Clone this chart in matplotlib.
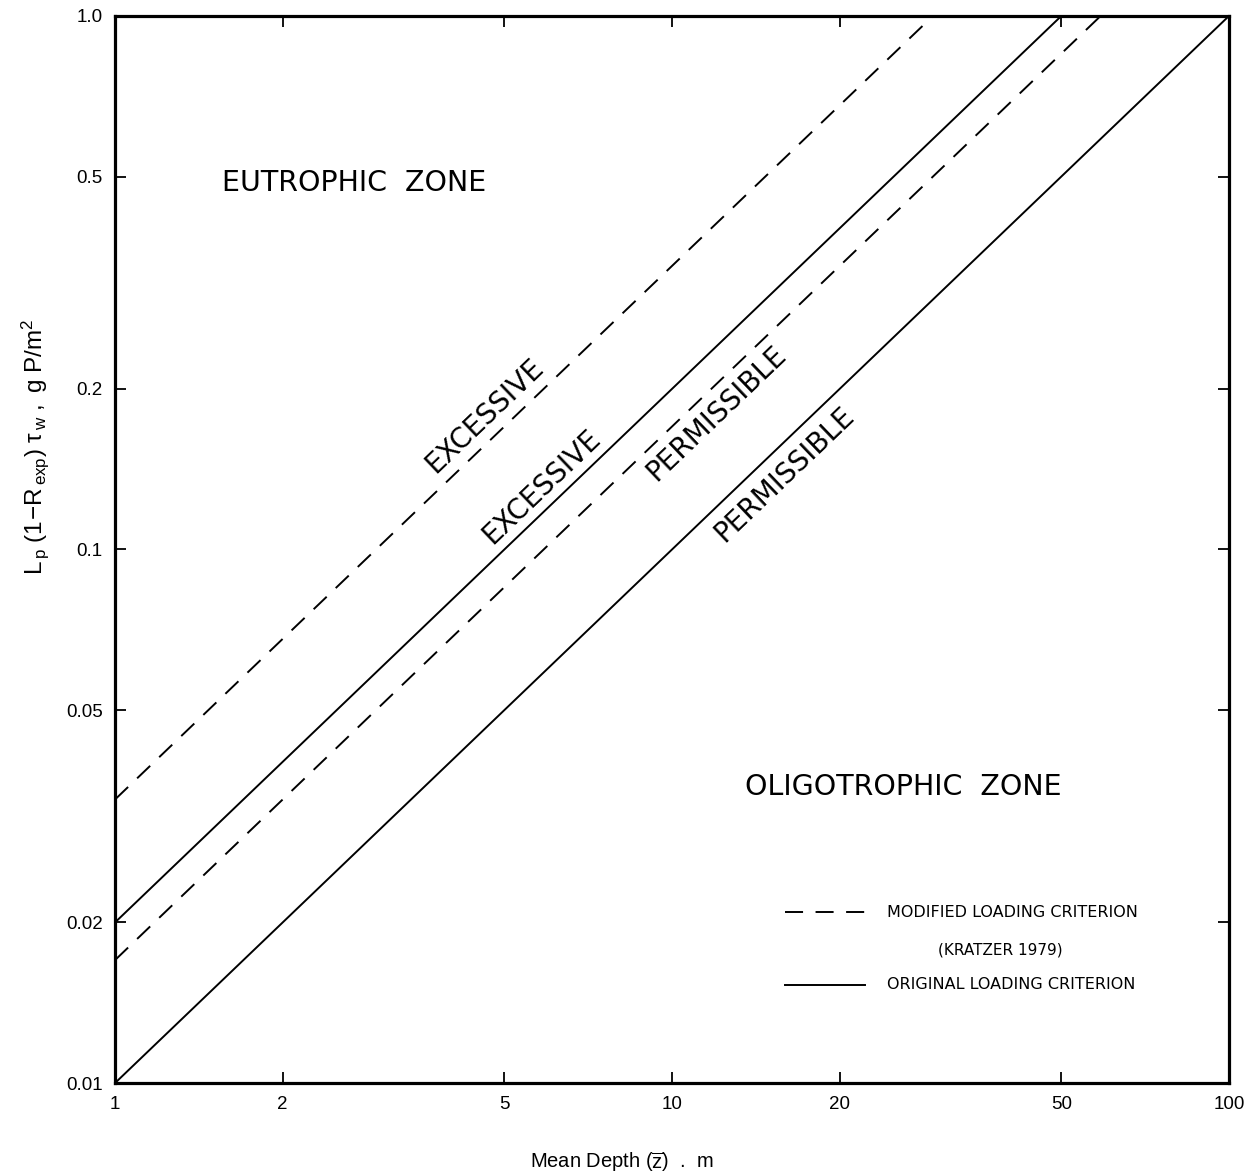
import numpy as np
import matplotlib
matplotlib.use('Agg')
import matplotlib.pyplot as plt

# Loading criteria lines: L_p(1-R_exp)tau_w against mean depth, two points each
depth_ends = [1, 100]
orig_permissible = [0.010, 1.00]
orig_excessive = [0.020, 2.00]
mod_permissible = [0.0170, 1.70]
mod_excessive = [0.0340, 3.40]

x_ticks = [1, 2, 5, 10, 20, 50, 100]
x_ticklabels = ['1', '2', '5', '10', '20', '50', '100']
y_ticks = [0.01, 0.02, 0.05, 0.1, 0.2, 0.5, 1.0]
y_ticklabels = ['0.01', '0.02', '0.05', '0.1', '0.2', '0.5', '1.0']

# label text, position (depth, load) for the rotated line labels
line_labels = [
    ('EXCESSIVE', 4.60, 0.178),
    ('EXCESSIVE', 5.84, 0.131),
    ('PERMISSIBLE', 12.0, 0.180),
    ('PERMISSIBLE', 15.9, 0.138),
]

plt.rcParams['font.family'] = 'Liberation Sans'
plt.rcParams['mathtext.fontset'] = 'custom'
plt.rcParams['mathtext.rm'] = 'Liberation Sans'
plt.rcParams['mathtext.it'] = 'Liberation Sans'
plt.rcParams['mathtext.sf'] = 'Liberation Sans'
plt.rcParams['lines.scale_dashes'] = False

caps_font = 'DejaVu Sans'

fig = plt.figure(figsize=(12.52, 11.74), dpi=100, facecolor='w')
ax = fig.add_axes([0.0919, 0.0775, 0.8897, 0.9089])
ax.set_xscale('log')
ax.set_yscale('log')
ax.set_xlim(1, 100)
ax.set_ylim(0.01, 1.0)

dash = (13, 9)
ax.plot(depth_ends, orig_permissible, color='k', lw=1.4)
ax.plot(depth_ends, orig_excessive, color='k', lw=1.4)
ax.plot(depth_ends, mod_permissible, color='k', lw=1.4, dashes=dash)
ax.plot(depth_ends, mod_excessive, color='k', lw=1.4, dashes=dash)

# rotate labels to follow the lines on screen
p1 = ax.transData.transform((1, 0.01))
p2 = ax.transData.transform((100, 1.0))
angle = np.degrees(np.arctan2(p2[1] - p1[1], p2[0] - p1[0]))
for txt, xx, yy in line_labels:
    ax.text(xx, yy, txt, rotation=angle, rotation_mode='anchor',
            ha='center', va='center', fontsize=20, family=caps_font)

ax.text(0.096, 0.8435, 'EUTROPHIC  ZONE', transform=ax.transAxes,
        fontsize=20.5, ha='left', va='center', family=caps_font)
ax.text(0.5655, 0.2774, 'OLIGOTROPHIC  ZONE', transform=ax.transAxes,
        fontsize=20.5, ha='left', va='center', family=caps_font)

# key in the lower right corner
ax.plot([0.601, 0.673], [0.160, 0.160], transform=ax.transAxes,
        color='k', lw=1.4, dashes=dash)
ax.plot([0.601, 0.673], [0.092, 0.092], transform=ax.transAxes,
        color='k', lw=1.4)
ax.text(0.693, 0.160, 'MODIFIED LOADING CRITERION', transform=ax.transAxes,
        fontsize=11.5, ha='left', va='center', family=caps_font)
ax.text(0.795, 0.1246, '(KRATZER 1979)', transform=ax.transAxes,
        fontsize=11, ha='center', va='center', family=caps_font)
ax.text(0.693, 0.092, 'ORIGINAL LOADING CRITERION', transform=ax.transAxes,
        fontsize=11.5, ha='left', va='center', family=caps_font)

ax.set_xticks(x_ticks)
ax.set_xticklabels(x_ticklabels)
ax.set_yticks(y_ticks)
ax.set_yticklabels(y_ticklabels)
ax.minorticks_off()
ax.tick_params(direction='in', length=8, width=1.3, labelsize=13.5,
               top=True, right=True, pad=9)

for s in ax.spines.values():
    s.set_linewidth(2.3)

ax.set_xlabel(r'Mean Depth ($\mathregular{\overline{z}}$)  .  m', fontsize=14.5,
              va='top')
ax.xaxis.set_label_coords(0.455, -0.0625)
ax.set_ylabel(r'$\mathregular{L_{\,p}\ (1\!-\!R_{\,exp})\ \tau_{\,w}\ ,\ g\ P/m^2}$',
              fontsize=17.5, va='center')
ax.yaxis.set_label_coords(-0.072, 0.596)

fig.savefig('out.png', dpi=100)
plt.close()
